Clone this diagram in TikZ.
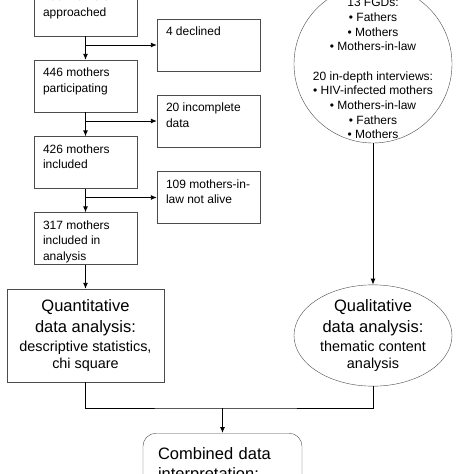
\documentclass[tikz,border=0pt]{standalone}
\usepackage{fontspec}
\setmainfont{Liberation Sans}
\usetikzlibrary{shapes.geometric,arrows.meta}
\newcommand{\stagetext}[1]{\parbox[t][36pt][t]{85pt}{\raggedright #1}}
\newcommand{\headfont}{\fontsize{16.5}{17}\selectfont}
\begin{document}
\begin{tikzpicture}[x=1pt,y=-1pt]
\tikzstyle{stage}=[rectangle, draw=black!70, inner xsep=9pt, inner ysep=8pt, font=\fontsize{12}{15.5}\selectfont]
\tikzstyle{analysis}=[draw=black!70, minimum width=158pt, minimum height=93pt, inner sep=0pt, align=center, font=\fontsize{14.4}{17}\selectfont]
\tikzstyle{flow}=[-{Latex[length=6pt,width=5pt]}, line width=0.9pt]
\useasboundingbox (0,0) rectangle (474,474);

% Quantitative branch
\node[stage] (approached) at (85.5,10) {\stagetext{450 mothers\\approached}};
\node[stage] (participating) at (85.5,86) {\stagetext{446 mothers\\participating}};
\node[stage] (included) at (85.5,162.5) {\stagetext{426 mothers\\included}};
\node[stage] (analysed) at (85.5,238.5) {\stagetext{317 mothers\\included in\\analysis}};

% Excluded mothers
\node[stage] (declined) at (208.5,45) {\stagetext{4 declined}};
\node[stage] (incomplete) at (208.5,121) {\stagetext{20 incomplete\\data}};
\node[stage] (notalive) at (208.5,197.5) {\stagetext{109 mothers-in-\\law not alive}};

% Qualitative branch
\node[circle, draw=black!70, minimum size=158pt, inner sep=0pt] (fgd) at (373,64) {};
\node[align=center, font=\fontsize{12}{14.67}\selectfont, yshift=-4.7pt] (fgdtext) at (fgd.center) {13 FGDs:\\• Fathers\\• Mothers\\• Mothers-in-law\\[14.67pt]20 in-depth interviews:\\• HIV-infected mothers\\• Mothers-in-law\\• Fathers\\• Mothers};

% Analysis
\node[analysis, rectangle, minimum width=157pt] (quant) at (85.5,335.5) {{\headfont Quantitative}\\[3.7pt]{\headfont data analysis:}\\[2pt]descriptive statistics,\\chi square};
\node[analysis, ellipse] (qual) at (373,335.5) {{\headfont Qualitative}\\[3.7pt]{\headfont data analysis:}\\[2pt]thematic content\\analysis};

% Combined
\node[draw=black!70, rounded corners=13pt, anchor=north, inner xsep=15pt, inner ysep=14pt, text width=129pt, align=left, font=\fontsize{16.5}{20.5}\selectfont] (combined) at (222.5,433) {Combined data\\interpretation:};

% Connect nodes
\coordinate (b1) at (approached.south |- declined.west);
\coordinate (b2) at (participating.south |- incomplete.west);
\coordinate (b3) at (included.south |- notalive.west);
\coordinate (merge) at (222.5,408);

\draw[flow] (approached) -- (participating);
\draw[flow] (participating) -- (included);
\draw[flow] (included) -- (analysed);
\draw[flow] (analysed) -- (quant);
\draw[flow] (b1) -- (declined.west);
\draw[flow] (b2) -- (incomplete.west);
\draw[flow] (b3) -- (notalive.west);
\draw[flow] (fgd) -- (qual);
\draw[line width=0.9pt] (quant.south) |- (merge) -| (qual.south);
\draw[flow] (merge) -- (combined.north);
\end{tikzpicture}
\end{document}
